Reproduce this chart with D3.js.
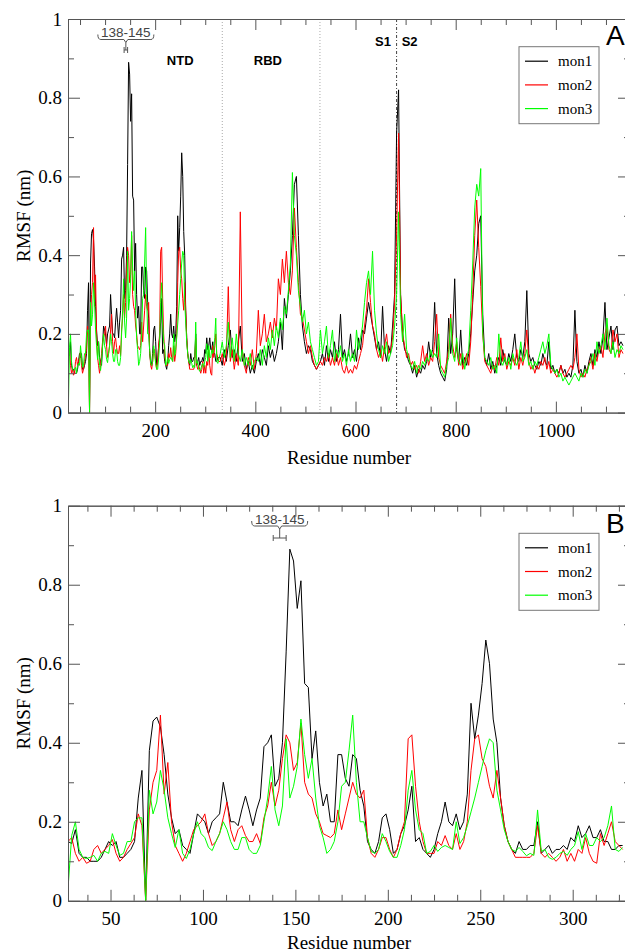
<!DOCTYPE html>
<html><head><meta charset="utf-8">
<script src="https://cdn.jsdelivr.net/npm/d3@7"></script>
<style>body{margin:0;background:#fff}svg{display:block}</style>
</head><body>
<svg id="chart" width="625" height="952"></svg>
<script>
const seriesNames = ["mon1", "mon2", "mon3"];
const seriesColors = ["#000000", "#ff0000", "#00ff00"];

// Residues 27..327, every 2nd residue
const headStart = 27, headStep = 2;
const mon1Head = [
0.15,0.145,0.18,0.12,0.11,0.11,0.10,0.10,0.10,0.11,
0.13,0.15,0.14,0.15,0.11,0.11,0.12,0.13,0.15,0.26,
0.33,0.0,0.38,0.455,0.465,0.44,0.37,0.27,0.21,0.17,
0.18,0.14,0.13,0.12,0.17,0.22,0.21,0.20,0.17,0.20,
0.21,0.22,0.30,0.25,0.20,0.20,0.19,0.23,0.265,0.23,
0.19,0.23,0.26,0.39,0.40,0.42,0.29,0.31,0.40,0.63,
0.89,0.86,0.74,0.81,0.55,0.54,0.36,0.43,0.30,0.24,
0.27,0.20,0.20,0.37,0.37,0.31,0.29,0.37,0.36,0.28,
0.24,0.15,0.13,0.12,0.15,0.21,0.22,0.18,0.12,0.13,
0.17,0.19,0.23,0.29,0.15,0.16,0.13,0.12,0.11,0.13,
0.17,0.20,0.25,0.20,0.19,0.22,0.18,0.20,0.27,0.50,
0.41,0.47,0.55,0.66,0.60,0.46,0.40,0.26,0.19,0.15,
0.13,0.12,0.15,0.13,0.13,0.14,0.14,0.20,0.12,0.13,
0.14,0.12,0.13,0.13,0.14,0.13,0.16,0.15,0.19,0.16,
0.17,0.19,0.16,0.16,0.18,0.15,0.15,0.13,0.13,0.14,
0.14];
const mon2Head = [
0.15,0.16,0.12,0.10,0.11,0.095,0.10,0.13,0.14,0.12,
0.13,0.14,0.155,0.12,0.10,0.11,0.13,0.145,0.16,0.22,
0.19,0.0,0.23,0.30,0.33,0.47,0.27,0.35,0.20,0.14,
0.12,0.10,0.12,0.15,0.18,0.19,0.20,0.22,0.17,0.14,
0.15,0.17,0.21,0.25,0.18,0.15,0.18,0.19,0.165,0.15,
0.15,0.17,0.145,0.21,0.24,0.30,0.24,0.28,0.36,0.42,
0.40,0.33,0.35,0.45,0.30,0.27,0.26,0.22,0.20,0.17,
0.165,0.16,0.17,0.23,0.18,0.22,0.26,0.30,0.27,0.26,
0.28,0.16,0.12,0.11,0.13,0.16,0.16,0.13,0.11,0.13,
0.17,0.20,0.41,0.42,0.29,0.20,0.15,0.12,0.12,0.12,
0.15,0.14,0.165,0.14,0.13,0.17,0.13,0.15,0.20,0.33,
0.41,0.42,0.36,0.34,0.29,0.26,0.33,0.26,0.19,0.15,
0.13,0.11,0.11,0.11,0.11,0.11,0.12,0.19,0.12,0.11,
0.12,0.11,0.10,0.11,0.13,0.10,0.12,0.10,0.13,0.12,
0.16,0.12,0.10,0.095,0.17,0.14,0.17,0.20,0.15,0.14,
0.13];
const mon3Head = [
0.03,0.165,0.20,0.13,0.11,0.107,0.11,0.115,0.10,0.12,
0.125,0.12,0.17,0.14,0.115,0.12,0.15,0.15,0.20,0.21,
0.21,0.0,0.28,0.22,0.25,0.33,0.28,0.21,0.17,0.135,
0.18,0.12,0.107,0.13,0.17,0.20,0.17,0.16,0.135,0.127,
0.15,0.17,0.20,0.18,0.15,0.13,0.13,0.16,0.16,0.13,
0.12,0.12,0.14,0.20,0.26,0.34,0.23,0.19,0.24,0.41,
0.26,0.29,0.34,0.46,0.37,0.31,0.36,0.26,0.19,0.16,
0.12,0.13,0.15,0.20,0.29,0.30,0.38,0.47,0.30,0.20,
0.20,0.16,0.125,0.12,0.13,0.17,0.15,0.125,0.11,0.11,
0.14,0.18,0.28,0.33,0.23,0.18,0.17,0.12,0.125,0.14,
0.125,0.135,0.14,0.135,0.13,0.20,0.145,0.16,0.19,0.225,
0.26,0.30,0.34,0.38,0.41,0.40,0.28,0.23,0.18,0.15,
0.13,0.125,0.135,0.125,0.114,0.12,0.115,0.23,0.125,0.13,
0.11,0.105,0.11,0.12,0.125,0.115,0.13,0.14,0.175,0.13,
0.17,0.14,0.14,0.16,0.15,0.16,0.19,0.24,0.13,0.125,
0.135];

// Residues 330..1134, every 4th residue
const restStart = 330, restStep = 4;
const mon1Rest = [
0.14,0.12,0.16,0.13,0.17,0.21,0.14,0.16,0.13,0.18,0.22,0.13,0.15,0.11,0.13,0.10,0.12,0.10,
0.13,0.15,0.12,0.16,0.14,0.12,0.17,0.14,0.16,0.13,0.15,0.18,0.23,0.16,0.29,0.24,0.30,
0.36,0.45,0.58,0.60,0.45,0.30,0.22,
0.18,0.15,0.17,0.16,0.13,0.12,0.11,0.12,
0.13,0.15,0.12,0.17,0.13,0.16,0.14,0.18,0.13,0.16,0.25,0.14,0.16,0.13,0.15,0.20,0.14,0.16,0.13,0.19,0.16,0.21,
0.20,0.24,0.28,0.25,0.22,0.19,0.16,0.18,0.14,0.27,0.16,0.13,0.17,0.15,0.22,0.30,
0.71,0.82,0.30,0.20,0.16,0.15,
0.13,0.12,0.10,0.12,0.09,0.11,0.10,0.12,0.11,0.13,0.18,0.14,0.16,0.28,0.15,0.12,0.10,0.09,0.08,
0.11,0.24,0.15,0.20,0.34,0.16,0.13,0.21,0.12,0.14,0.12,0.15,
0.20,0.28,0.36,0.40,0.48,0.50,0.25,0.14,
0.12,0.15,0.11,0.13,0.10,0.12,0.14,0.12,0.16,0.13,0.12,0.15,0.13,0.16,0.20,0.14,0.13,0.16,0.14,0.18,
0.31,0.15,0.13,0.14,0.12,0.11,0.13,0.12,0.15,0.13,0.12,0.18,0.11,0.12,0.10,
0.11,0.10,0.12,0.10,0.11,0.09,0.10,0.09,0.12,0.26,0.13,0.10,0.11,0.09,0.12,0.10,0.13,
0.15,0.12,0.16,0.14,0.18,0.15,0.19,0.28,0.16,0.19,0.22,0.16,0.21,0.22,0.17,0.18,0.17];
const mon2Rest = [
0.13,0.15,0.12,0.14,0.32,0.13,0.16,0.11,0.15,0.12,0.51,0.16,0.12,0.10,0.14,0.12,0.16,0.11,
0.15,0.26,0.17,0.20,0.25,0.18,0.20,0.23,0.19,0.24,0.21,0.34,0.30,0.39,0.33,0.41,0.33,
0.30,0.36,0.52,0.42,0.33,0.25,0.24,
0.21,0.18,0.15,0.17,0.14,0.12,0.11,0.12,
0.13,0.12,0.14,0.13,0.15,0.12,0.14,0.12,0.15,0.12,0.14,0.11,0.10,0.12,0.10,0.11,0.10,0.12,0.11,0.13,0.15,0.17,
0.22,0.26,0.34,0.28,0.22,0.20,0.16,0.14,0.16,0.13,0.17,0.20,0.15,0.16,0.19,0.28,
0.45,0.71,0.30,0.20,0.17,0.14,
0.15,0.12,0.13,0.11,0.12,0.10,0.13,0.17,0.13,0.15,0.12,0.14,0.13,0.18,0.25,0.14,0.12,0.11,0.10,
0.13,0.16,0.25,0.17,0.14,0.18,0.12,0.15,0.11,0.13,0.15,0.12,
0.18,0.30,0.45,0.54,0.42,0.32,0.20,0.13,
0.12,0.11,0.10,0.12,0.11,0.14,0.12,0.19,0.13,0.15,0.11,0.13,0.12,0.14,0.12,0.16,0.11,0.14,0.12,0.15,
0.21,0.13,0.11,0.12,0.10,0.12,0.11,0.13,0.12,0.14,0.11,0.13,0.10,0.11,0.10,
0.09,0.10,0.12,0.10,0.09,0.10,0.11,0.12,0.11,0.14,0.20,0.11,0.09,0.10,0.09,0.11,0.12,
0.14,0.11,0.15,0.13,0.16,0.17,0.14,0.20,0.22,0.16,0.15,0.21,0.18,0.20,0.14,0.16,0.15];
const mon3Rest = [
0.15,0.18,0.14,0.17,0.23,0.14,0.19,0.13,0.20,0.15,0.13,0.16,0.12,0.14,0.12,0.15,0.11,0.13,
0.14,0.13,0.16,0.12,0.17,0.14,0.19,0.16,0.21,0.17,0.22,0.19,0.24,0.21,0.27,0.25,0.31,
0.38,0.61,0.45,0.40,0.31,0.27,0.23,
0.26,0.20,0.23,0.18,0.16,0.14,0.12,0.13,
0.21,0.15,0.18,0.22,0.14,0.17,0.21,0.13,0.16,0.14,0.17,0.13,0.15,0.12,0.16,0.13,0.15,0.13,0.21,0.16,0.19,0.22,
0.28,0.33,0.36,0.30,0.41,0.26,0.20,0.16,0.14,0.17,0.15,0.18,0.13,0.15,0.17,0.22,
0.30,0.51,0.25,0.18,0.25,0.16,
0.14,0.12,0.11,0.13,0.10,0.12,0.11,0.13,0.12,0.14,0.13,0.16,0.14,0.15,0.14,0.20,0.11,0.10,0.09,
0.12,0.14,0.24,0.15,0.13,0.19,0.13,0.12,0.15,0.11,0.14,0.16,
0.26,0.38,0.52,0.58,0.55,0.62,0.20,0.14,
0.13,0.12,0.14,0.11,0.12,0.10,0.20,0.13,0.12,0.14,0.12,0.14,0.11,0.15,0.13,0.12,0.14,0.18,0.13,0.14,
0.16,0.12,0.13,0.11,0.13,0.12,0.14,0.16,0.18,0.15,0.17,0.20,0.12,0.11,0.10,
0.11,0.09,0.10,0.08,0.09,0.08,0.07,0.08,0.09,0.10,0.09,0.08,0.10,0.09,0.11,0.10,0.12,
0.13,0.15,0.12,0.18,0.15,0.17,0.20,0.16,0.24,0.17,0.15,0.18,0.14,0.16,0.15,0.17,0.16];

const yMajorTicks = [0, 0.2, 0.4, 0.6, 0.8, 1];
const yMinorTicks = [0.1, 0.3, 0.5, 0.7, 0.9];
const xMajorTicksA = [200, 400, 600, 800, 1000];
const xMajorTicksB = [50, 100, 150, 200, 250, 300];
const domainLines = [334, 529];
const cleavageLine = 682;
const domainLabels = [{text: "NTD", r: 250, dy: 65}, {text: "RBD", r: 425, dy: 65},
                      {text: "S1", r: 655, dy: 45.5}, {text: "S2", r: 708, dy: 45.5}];
const highlight = {label: "138-145", from: 138, to: 145};

const headRes = mon1Head.map((_, i) => headStart + i * headStep);
const restRes = mon1Rest.map((_, i) => restStart + i * restStep);
const headSeries = [mon1Head, mon2Head, mon3Head].map(v => v.map((d, i) => [headRes[i], d]));
const restSeries = [mon1Rest, mon2Rest, mon3Rest].map(v => v.map((d, i) => [restRes[i], d]));
const fullSeries = headSeries.map((s, i) => s.concat(restSeries[i]));

const svg = d3.select("#chart");
const SERIF = "'Liberation Serif','Times New Roman',serif";
const SANS = "'Liberation Sans',Arial,sans-serif";
const AX = "#555";

function drawPanel(cfg) {
  const g = svg.append("g");
  const x = d3.scaleLinear().domain(cfg.domain).range([cfg.left, cfg.right]);
  const y = d3.scaleLinear().domain([0, 1]).range([cfg.bottom, cfg.top]);
  const clipId = "clip" + cfg.letter;
  svg.append("defs").append("clipPath").attr("id", clipId).append("rect")
    .attr("x", cfg.left).attr("y", cfg.top - 2).attr("width", cfg.right - cfg.left).attr("height", cfg.bottom - cfg.top + 2);

  if (cfg.regions) {
    domainLines.forEach(r => g.append("line").attr("x1", x(r)).attr("x2", x(r))
      .attr("y1", cfg.top).attr("y2", cfg.bottom).attr("stroke", "#aaa").attr("stroke-width", 1).attr("stroke-dasharray", "1,2"));
    g.append("line").attr("x1", x(cleavageLine)).attr("x2", x(cleavageLine))
      .attr("y1", cfg.top).attr("y2", cfg.bottom).attr("stroke", "#444").attr("stroke-width", 1).attr("stroke-dasharray", "3,2,1,2");
    domainLabels.forEach(l => g.append("text").attr("x", x(l.r)).attr("y", l.dy)
      .attr("text-anchor", "middle").attr("font-family", SANS).attr("font-weight", "bold").attr("font-size", 13).text(l.text));
  }

  const line = d3.line().x(d => x(d[0])).y(d => y(d[1]));
  cfg.series.forEach((s, i) => g.append("path").datum(s).attr("d", line)
    .attr("fill", "none").attr("stroke", seriesColors[i]).attr("stroke-width", 1)
    .attr("stroke-linejoin", "round").attr("clip-path", `url(#${clipId})`));

  const yFmt = d => (d === 0 || d === 1) ? String(d) : d.toFixed(1);
  g.append("g").attr("transform", `translate(0,${cfg.bottom})`)
    .call(d3.axisBottom(x).tickValues(cfg.major).tickSize(-11).tickSizeOuter(0).tickPadding(11).tickFormat(d3.format("d")));
  g.append("g").attr("transform", `translate(0,${cfg.bottom})`)
    .call(d3.axisBottom(x).tickValues(cfg.minor).tickSize(-6).tickSizeOuter(0).tickFormat(""));
  g.append("g").attr("transform", `translate(0,${cfg.top})`)
    .call(d3.axisTop(x).tickValues(cfg.major).tickSize(-11).tickSizeOuter(0).tickFormat(""));
  g.append("g").attr("transform", `translate(0,${cfg.top})`)
    .call(d3.axisTop(x).tickValues(cfg.minor).tickSize(-6).tickSizeOuter(0).tickFormat(""));
  g.append("g").attr("transform", `translate(${cfg.left},0)`)
    .call(d3.axisLeft(y).tickValues(yMajorTicks).tickSize(-12).tickSizeOuter(0).tickPadding(6).tickFormat(yFmt));
  g.append("g").attr("transform", `translate(${cfg.left},0)`)
    .call(d3.axisLeft(y).tickValues(yMinorTicks).tickSize(-6).tickSizeOuter(0).tickFormat(""));
  g.append("g").attr("transform", `translate(${cfg.right},0)`)
    .call(d3.axisRight(y).tickValues(yMajorTicks).tickSize(-12).tickSizeOuter(0).tickFormat(""));
  g.append("g").attr("transform", `translate(${cfg.right},0)`)
    .call(d3.axisRight(y).tickValues(yMinorTicks).tickSize(-6).tickSizeOuter(0).tickFormat(""));
  g.selectAll(".domain, .tick line").attr("stroke", AX);
  g.selectAll(".tick text").attr("font-family", SERIF).attr("font-size", 19).attr("fill", "#000");

  g.append("text").attr("x", (cfg.left + cfg.right) / 2).attr("y", cfg.xTitleY)
    .attr("text-anchor", "middle").attr("font-family", SERIF).attr("font-size", 19).text("Residue number");
  g.append("text").attr("transform", `translate(30,${(cfg.top + cfg.bottom) / 2}) rotate(-90)`)
    .attr("text-anchor", "middle").attr("font-family", SERIF).attr("font-size", 19).text("RMSF (nm)");

  const cx = x((highlight.from + highlight.to) / 2), by = cfg.bracketY, hy = cfg.barY;
  const ann = g.append("g").attr("stroke", "#555").attr("fill", "none").attr("stroke-width", 1);
  ann.append("path").attr("d",
    `M${cx - 28},${by - 5} Q${cx - 28},${by} ${cx - 25},${by} L${cx - 2},${by} L${cx},${by + 3} L${cx + 2},${by} L${cx + 25},${by} Q${cx + 28},${by} ${cx + 28},${by - 5}`);
  ann.append("line").attr("x1", cx).attr("x2", cx).attr("y1", by + 3).attr("y2", hy);
  ann.append("line").attr("x1", x(highlight.from)).attr("x2", x(highlight.to)).attr("y1", hy).attr("y2", hy);
  [highlight.from, highlight.to].forEach(r => ann.append("line").attr("x1", x(r)).attr("x2", x(r)).attr("y1", hy - 3).attr("y2", hy + 3));
  g.append("text").attr("x", cx).attr("y", by - 2.5).attr("text-anchor", "middle")
    .attr("font-family", SANS).attr("font-size", 13.5).attr("fill", "#444").text(highlight.label);

  const lg = g.append("g").attr("transform", `translate(519,${cfg.legendTop})`);
  lg.append("rect").attr("width", 80).attr("height", 77).attr("fill", "#fff").attr("stroke", "#777");
  seriesNames.forEach((n, i) => {
    const yy = 14.5 + i * 23.7;
    lg.append("line").attr("x1", 6).attr("x2", 29).attr("y1", yy).attr("y2", yy)
      .attr("stroke", seriesColors[i]).attr("stroke-width", 1.2);
    lg.append("text").attr("x", 39).attr("y", yy).attr("dy", "0.35em").attr("font-family", SERIF).attr("font-size", 15).text(n);
  });

  g.append("text").attr("x", 606).attr("y", cfg.letterY).attr("font-family", SANS).attr("font-size", 28).text(cfg.letter);
}

drawPanel({
  letter: "A", top: 19, bottom: 412.6, left: 68, right: 630, domain: [26, 1148],
  major: xMajorTicksA, minor: d3.range(50, 1148, 50).filter(v => v % 200 !== 0),
  series: fullSeries, regions: true, xTitleY: 464, legendTop: 46.7, letterY: 45,
  bracketY: 39.5, barY: 50
});
drawPanel({
  letter: "B", top: 505.7, bottom: 900.8, left: 68, right: 630, domain: [27, 331],
  major: xMajorTicksB, minor: d3.range(37.5, 331, 12.5).filter(v => v % 50 !== 0),
  series: headSeries, regions: false, xTitleY: 948.5, legendTop: 533.3, letterY: 533,
  bracketY: 526, barY: 538
});
</script>
</body></html>
